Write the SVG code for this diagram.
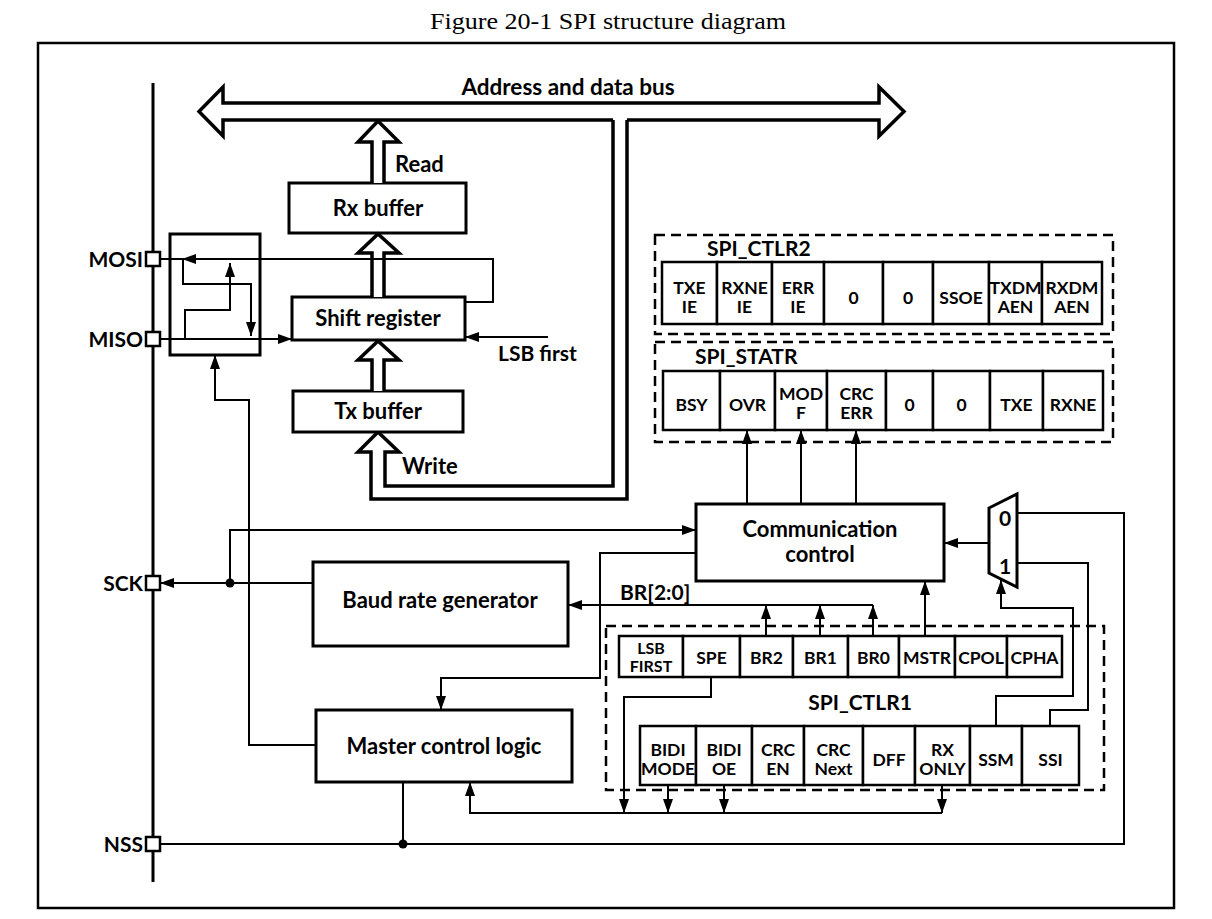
<svg xmlns="http://www.w3.org/2000/svg" width="1212" height="919" viewBox="0 0 1212 919">
<style>
.box{fill:#fff;stroke:#000;stroke-width:3}
.cell{fill:#fff;stroke:#000;stroke-width:2.5}
.dash{fill:none;stroke:#000;stroke-width:2.5;stroke-dasharray:10 6}
.ln{fill:none;stroke:#000;stroke-width:2}
.bus{fill:#fff;stroke:#000;stroke-width:3.5;stroke-linejoin:miter}
.t{font-family:Lato,"Open Sans","Liberation Sans",sans-serif;font-weight:bold;fill:#000}
.big{font-size:22.5px}
.lbl{font-size:22px}
.sm{font-size:21px}
.c{font-size:17.5px;text-anchor:middle}
.m{text-anchor:middle}
.e{text-anchor:end}
</style>
<defs>
<marker id="ah" viewBox="0 0 14 10" refX="14" refY="5" markerWidth="14" markerHeight="10" orient="auto" markerUnits="userSpaceOnUse"><path d="M0,0 L14,5 L0,10 z" fill="#000"/></marker>
</defs>
<rect width="1212" height="919" fill="#fff"/>
<text x="608" y="29" font-family="'Liberation Serif',serif" font-size="24" text-anchor="middle" textLength="356" lengthAdjust="spacingAndGlyphs" fill="#000">Figure 20-1 SPI structure diagram</text>
<rect x="38" y="43" width="1136" height="865" fill="none" stroke="#000" stroke-width="2.5"/>

<g id="bus">
<path class="bus" d="M613,120 H223 V136 L199,111.5 L223,87 V103 H879 V87 L904,111.5 L879,136 V120 H627"/>
<path class="bus" d="M627,120 V499 H371 V452 H358 L378,432 L399,452 H385 V486 H613 V120" fill="none"/>
<text class="t big m" x="568" y="95">Address and data bus</text>
</g>

<g id="pins">
<line x1="153" y1="83" x2="153" y2="882" stroke="#000" stroke-width="3"/>
<rect class="cell" x="146" y="252" width="14" height="14" stroke-width="2"/>
<rect class="cell" x="146" y="332" width="14" height="14" stroke-width="2"/>
<rect class="cell" x="146" y="576" width="14" height="14" stroke-width="2"/>
<rect class="cell" x="146" y="837" width="14" height="14" stroke-width="2"/>
<text class="t sm e" x="143" y="267">MOSI</text>
<text class="t sm e" x="143" y="347">MISO</text>
<text class="t sm e" x="143" y="591">SCK</text>
<text class="t sm e" x="143" y="852">NSS</text>
</g>

<g id="rx-buffer">
<rect class="box" x="289" y="183" width="177" height="50"/>
<text class="t lbl m" x="378" y="216">Rx buffer</text>
</g>
<g id="shift-register">
<rect class="box" x="292" y="297" width="173" height="43"/>
<text class="t lbl m" x="378" y="326">Shift register</text>
</g>
<g id="tx-buffer">
<rect class="box" x="293" y="391" width="170" height="41"/>
<text class="t lbl m" x="378" y="419">Tx buffer</text>
</g>
<g id="switch">
<rect class="box" x="170" y="234" width="90" height="121"/>
</g>

<g id="comm-control">
<rect class="box" x="696" y="504" width="248" height="77"/>
<text class="t lbl m" x="820" y="537">Communication</text>
<text class="t lbl m" x="820" y="562">control</text>
</g>
<g id="baud">
<rect class="box" x="313" y="562" width="255" height="84"/>
<text class="t lbl m" x="440" y="608">Baud rate generator</text>
</g>
<g id="master">
<rect class="box" x="316" y="710" width="256" height="72"/>
<text class="t lbl m" x="444" y="754">Master control logic</text>
</g>
<g id="mux">
<polygon class="box" points="989,508 1017,494 1017,587 989,573"/>
<text class="t sm m" x="1005" y="526">0</text>
<text class="t sm m" x="1005" y="574">1</text>
</g>

<g id="spi-ctlr2">
<rect class="dash" x="655" y="235" width="458" height="99"/>
<text class="t sm" x="707" y="256">SPI_CTLR2</text>
<rect class="cell" x="662" y="262" width="55" height="62"/>
<rect class="cell" x="717" y="262" width="55" height="62"/>
<rect class="cell" x="772" y="262" width="52" height="62"/>
<rect class="cell" x="824" y="262" width="59" height="62"/>
<rect class="cell" x="883" y="262" width="50" height="62"/>
<rect class="cell" x="933" y="262" width="56" height="62"/>
<rect class="cell" x="989" y="262" width="53" height="62"/>
<rect class="cell" x="1042" y="262" width="60" height="62"/>
<text class="t c" x="689.5" y="294">TXE</text><text class="t c" x="689.5" y="313">IE</text>
<text class="t c" x="744.5" y="294">RXNE</text><text class="t c" x="744.5" y="313">IE</text>
<text class="t c" x="798" y="294">ERR</text><text class="t c" x="798" y="313">IE</text>
<text class="t c" x="853.5" y="304">0</text>
<text class="t c" x="908" y="304">0</text>
<text class="t c" x="961" y="304">SSOE</text>
<text class="t c" x="1015.5" y="294">TXDM</text><text class="t c" x="1015.5" y="313">AEN</text>
<text class="t c" x="1072" y="294">RXDM</text><text class="t c" x="1072" y="313">AEN</text>
</g>

<g id="spi-statr">
<rect class="dash" x="655" y="342" width="458" height="100"/>
<text class="t sm" x="695" y="364">SPI_STATR</text>
<rect class="cell" x="663" y="371" width="57" height="59"/>
<rect class="cell" x="720" y="371" width="55" height="59"/>
<rect class="cell" x="775" y="371" width="52" height="59"/>
<rect class="cell" x="827" y="371" width="59" height="59"/>
<rect class="cell" x="886" y="371" width="47" height="59"/>
<rect class="cell" x="933" y="371" width="57" height="59"/>
<rect class="cell" x="990" y="371" width="53" height="59"/>
<rect class="cell" x="1043" y="371" width="60" height="59"/>
<text class="t c" x="691.5" y="411">BSY</text>
<text class="t c" x="747.5" y="411">OVR</text>
<text class="t c" x="801" y="400">MOD</text><text class="t c" x="801" y="419">F</text>
<text class="t c" x="856.5" y="400">CRC</text><text class="t c" x="856.5" y="419">ERR</text>
<text class="t c" x="909.5" y="411">0</text>
<text class="t c" x="961.5" y="411">0</text>
<text class="t c" x="1016.5" y="411">TXE</text>
<text class="t c" x="1073" y="411">RXNE</text>
</g>

<g id="spi-ctlr1">
<rect class="dash" x="606" y="626" width="498" height="164"/>
<text class="t sm m" x="860" y="710">SPI_CTLR1</text>
<rect class="cell" x="619" y="636" width="64" height="41"/>
<rect class="cell" x="683" y="636" width="57" height="41"/>
<rect class="cell" x="740" y="636" width="53" height="41"/>
<rect class="cell" x="793" y="636" width="55" height="41"/>
<rect class="cell" x="848" y="636" width="51" height="41"/>
<rect class="cell" x="899" y="636" width="56" height="41"/>
<rect class="cell" x="955" y="636" width="52" height="41"/>
<rect class="cell" x="1007" y="636" width="55" height="41"/>
<text class="t c" x="651" y="654" style="font-size:16px">LSB</text><text class="t c" x="651" y="672" style="font-size:16px">FIRST</text>
<text class="t c" x="711.5" y="664">SPE</text>
<text class="t c" x="766.5" y="664">BR2</text>
<text class="t c" x="820.5" y="664">BR1</text>
<text class="t c" x="873.5" y="664">BR0</text>
<text class="t c" x="927" y="664">MSTR</text>
<text class="t c" x="981" y="664">CPOL</text>
<text class="t c" x="1034.5" y="664">CPHA</text>
<rect class="cell" x="640" y="726" width="56" height="59"/>
<rect class="cell" x="696" y="726" width="56" height="59"/>
<rect class="cell" x="752" y="726" width="52" height="59"/>
<rect class="cell" x="804" y="726" width="59" height="59"/>
<rect class="cell" x="863" y="726" width="52" height="59"/>
<rect class="cell" x="915" y="726" width="55" height="59"/>
<rect class="cell" x="970" y="726" width="52" height="59"/>
<rect class="cell" x="1022" y="726" width="57" height="59"/>
<text class="t c" x="668" y="756">BIDI</text><text class="t c" x="668" y="775">MODE</text>
<text class="t c" x="724" y="756">BIDI</text><text class="t c" x="724" y="775">OE</text>
<text class="t c" x="778" y="756">CRC</text><text class="t c" x="778" y="775">EN</text>
<text class="t c" x="833.5" y="756">CRC</text><text class="t c" x="833.5" y="775">Next</text>
<text class="t c" x="889" y="766">DFF</text>
<text class="t c" x="942.5" y="756">RX</text><text class="t c" x="942.5" y="775">ONLY</text>
<text class="t c" x="996" y="766">SSM</text>
<text class="t c" x="1050.5" y="766">SSI</text>
</g>

<g id="connectors">
<path class="bus" d="M372,183 V142 H358 L378,121 L399,142 H384 V183"/>
<path class="bus" d="M372,297 V253 H358 L378,234 L399,253 H384 V297"/>
<path class="bus" d="M372,391 V360 H358 L378,341 L399,360 H384 V391"/>
<text class="t lbl" x="395" y="172">Read</text>
<text class="t lbl" x="402" y="474">Write</text>
<path class="ln" d="M465,302 H493 V259 H160"/>
<polygon points="182,259 196,254 196,264" fill="#000"/>
<path class="ln" d="M183,259 V284 H251 V336" marker-end="url(#ah)"/>
<path class="ln" d="M185,339 V310 H230 V263" marker-end="url(#ah)"/>
<path class="ln" d="M160,339 H292" marker-end="url(#ah)"/>
<path class="ln" d="M548,337 H465" marker-end="url(#ah)"/>
<text class="t sm" x="498" y="361">LSB first</text>
<path class="ln" d="M316,745 H249 V400 H215 V355" marker-end="url(#ah)"/>
<path class="ln" d="M313,583 H160" marker-end="url(#ah)"/>
<circle cx="230" cy="583" r="4.5" fill="#000"/>
<path class="ln" d="M230,583 V530 H696" marker-end="url(#ah)"/>
<path class="ln" d="M696,553 H600 V678 H441 V710" marker-end="url(#ah)"/>
<path class="ln" d="M873,605 H568" marker-end="url(#ah)"/>
<text class="t sm" x="620" y="600">BR[2:0]</text>
<path class="ln" d="M766,636 V605" marker-end="url(#ah)"/>
<path class="ln" d="M820,636 V605" marker-end="url(#ah)"/>
<path class="ln" d="M873,636 V605" marker-end="url(#ah)"/>
<path class="ln" d="M925,636 V581" marker-end="url(#ah)"/>
<path class="ln" d="M747,504 V430" marker-end="url(#ah)"/>
<path class="ln" d="M801,504 V430" marker-end="url(#ah)"/>
<path class="ln" d="M856,504 V430" marker-end="url(#ah)"/>
<path class="ln" d="M989,543 H944" marker-end="url(#ah)"/>
<path class="ln" d="M160,844 H1124 V513 H1017"/>
<circle cx="403" cy="844" r="4.5" fill="#000"/>
<path class="ln" d="M403,844 V782"/>
<path class="ln" d="M1050,726 V710 H1088 V563 H1017"/>
<path class="ln" d="M996,726 V696 H1073 V608 H1001 V580" marker-end="url(#ah)"/>
<path class="ln" d="M711,677 V697 H624 V813" marker-end="url(#ah)"/>
<path class="ln" d="M668,785 V813" marker-end="url(#ah)"/>
<path class="ln" d="M724,785 V813" marker-end="url(#ah)"/>
<path class="ln" d="M942,785 V813" marker-end="url(#ah)"/>
<path class="ln" d="M942,813 H470 V782" marker-end="url(#ah)"/>
</g>
</svg>
